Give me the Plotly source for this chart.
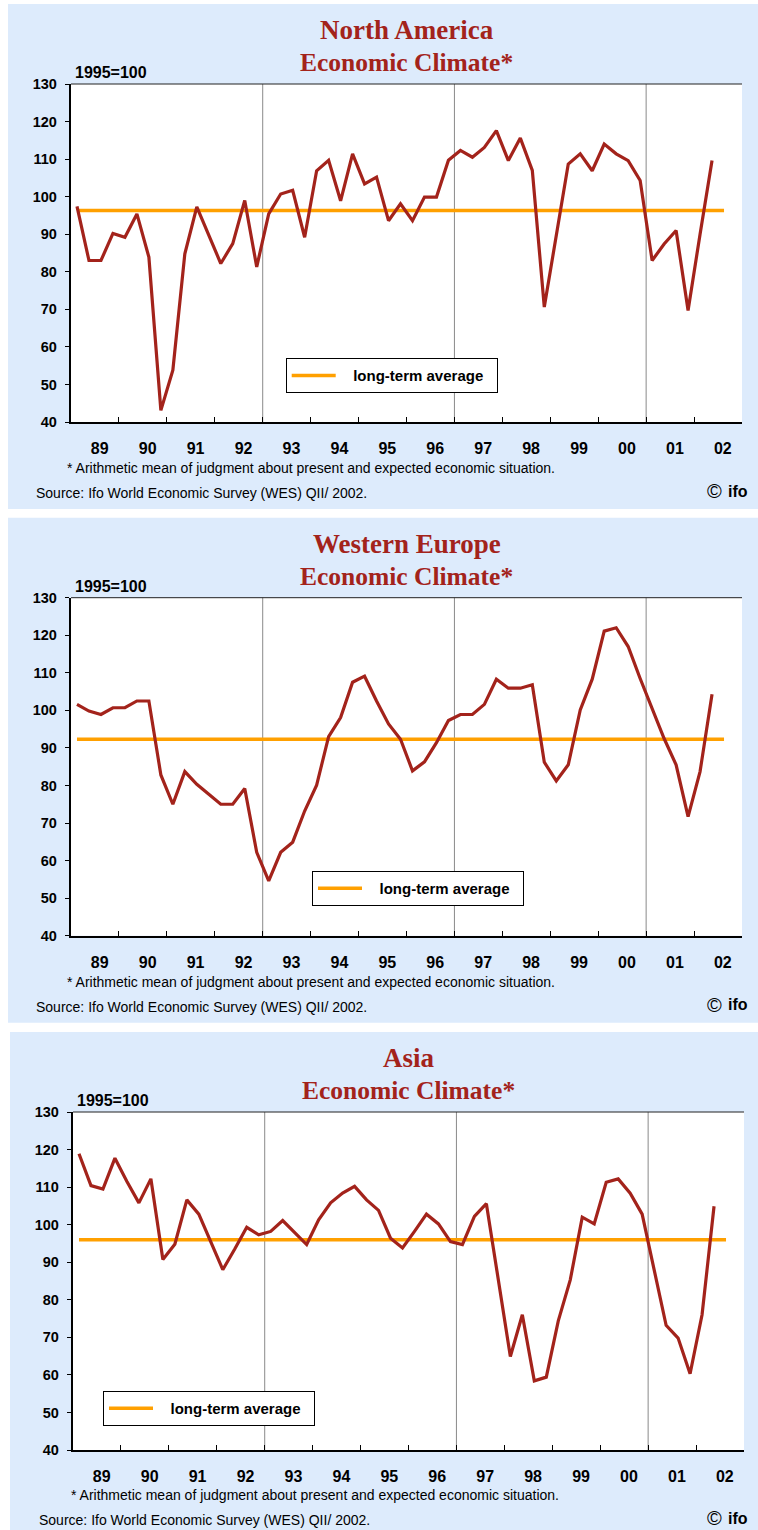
import plotly.graph_objects as go

# ---------------- data ----------------
quarters = [f"{y}Q{q}" for y in range(1989, 2003) for q in range(1, 5)][:54]   # 1989Q1 .. 2002Q2
avg_span = ["1989Q1", "2002Q3"]
year_labels = ["89", "90", "91", "92", "93", "94", "95", "96", "97", "98", "99", "00", "01", "02"]
year_starts = list(range(1989, 2003))
separator_years = [1993, 1997, 2001]

na_values = [97.4, 83.0, 83.0, 90.2, 89.2, 95.4, 83.9, 43.1, 53.8, 84.8,
             97.3, 90.0, 82.2, 87.5, 99.0, 81.3, 95.4, 100.7, 101.7, 89.2,
             106.9, 109.7, 98.9, 111.4, 103.4, 105.2, 93.6, 98.1, 93.6, 99.9,
             99.9, 109.7, 112.3, 110.5, 113.1, 117.6, 109.6, 115.6, 107.0, 70.6,
             89.5, 108.7, 111.4, 106.9, 114.0, 111.4, 109.6, 104.3, 83.0, 87.4,
             91.0, 69.7, 90.0, 109.6]
we_values = [101.6, 99.8, 98.9, 100.7, 100.7, 102.5, 102.5, 82.8, 75.0, 83.7,
             80.3, 77.6, 75.0, 75.0, 79.2, 62.2, 54.6, 62.2, 64.9, 73.2,
             80.1, 93.0, 98.1, 107.5, 109.1, 102.5, 96.4, 92.3, 83.9, 86.3,
             91.4, 97.3, 98.9, 98.9, 101.6, 108.3, 105.9, 105.9, 106.8, 86.2,
             81.2, 85.5, 100.1, 108.3, 121.1, 122.0, 117.0, 108.5, 100.5, 92.5,
             85.5, 71.7, 83.7, 104.3]
asia_values = [118.9, 110.4, 109.5, 117.7, 111.5, 105.8, 112.2, 90.7, 94.8, 106.6,
               102.8, 95.4, 88.0, 93.5, 99.3, 97.3, 98.2, 101.1, 97.8, 94.7,
               101.3, 105.8, 108.4, 110.2, 106.6, 103.8, 96.4, 93.8, 98.2, 102.8,
               100.2, 95.5, 94.7, 102.2, 105.6, 85.3, 64.9, 76.0, 58.4, 59.4,
               74.4, 85.3, 102.0, 100.2, 111.3, 112.2, 108.4, 102.8, 87.5, 73.2,
               69.8, 60.3, 76.0, 104.9]
regions = ["North America", "Western Europe", "Asia"]
series = [na_values, we_values, asia_values]
long_term_avg = [96.3, 92.3, 96.0]

subtitle = "Economic Climate*"
base_label = "1995=100"
legend_label = "long-term average"
footnote = "* Arithmetic mean of judgment about present and expected economic situation."
source = "Source: Ifo World Economic Survey (WES) QII/ 2002."


def qpos(label):
    y, q = label.split("Q")
    return int(y) + (int(q) - 0.5) / 4.0


# ---------------- layout helpers ----------------
W, H = 758, 1530
def px(x): return x / W
def py(y): return 1 - y / H

RED = "#a3231b"
ORANGE = "#ffa000"
BLUE_BG = "#ddebfc"
SANS = "Liberation Sans, Arial, sans-serif"
SERIF = "Liberation Serif, Times New Roman, serif"
NB = "\u00a0"

panel_dy = [0, 513.7, 1028]
footer_dy = [0, 513.7, 1026.8]
panel_dx = [0, 0, 2]
legend_pos = [(285.7, 358.3), (312, 871), (103, 1391)]

fig = go.Figure()
shapes, annotations = [], []
layout = dict(width=W, height=H, margin=dict(l=0, r=0, t=0, b=0, autoexpand=False),
              paper_bgcolor="white", plot_bgcolor="rgba(0,0,0,0)", showlegend=True)

for k in range(3):
    n = k + 1
    sfx = "" if n == 1 else str(n)
    dy, dx, fdy = panel_dy[k], panel_dx[k], footer_dy[k]
    xl, xr = 71 + dx, 742 + dx
    yt, yb = 84 + dy, 422 + dy
    xa, ya = f"x{sfx}", f"y{sfx}"
    leg = "legend" if n == 1 else f"legend{n}"

    # panel background + white plot area
    shapes.append(dict(type="rect", xref="paper", yref="paper", layer="below",
                       x0=px(8 + dx), x1=px(758), y0=py(4 + dy), y1=py(509 + dy),
                       fillcolor=BLUE_BG, line=dict(width=0)))
    shapes.append(dict(type="rect", xref="paper", yref="paper", layer="below",
                       x0=px(xl), x1=px(xr), y0=py(yb), y1=py(yt),
                       fillcolor="white", line=dict(width=0)))
    for sy in separator_years:
        shapes.append(dict(type="line", xref=xa, yref=f"{ya} domain", layer="below",
                           x0=sy, x1=sy, y0=0, y1=1, line=dict(color="#8a8a8a", width=1)))
    shapes.append(dict(type="line", xref=f"{xa} domain", yref=f"{ya} domain",
                       x0=0, x1=1, y0=1, y1=1, line=dict(color="#222", width=1)))

    fig.add_trace(go.Scatter(x=[qpos(q) for q in avg_span], y=[long_term_avg[k]] * 2,
                             mode="lines", line=dict(color=ORANGE, width=3.5),
                             name=NB * 3 + legend_label + NB * 2, legend=leg,
                             xaxis=xa, yaxis=ya, hoverinfo="skip"))
    fig.add_trace(go.Scatter(x=[qpos(q) for q in quarters], y=series[k], mode="lines",
                             line=dict(color=RED, width=3.2), showlegend=False,
                             xaxis=xa, yaxis=ya, name=regions[k]))

    layout[f"xaxis{sfx}"] = dict(
        domain=[px(xl), px(xr)], range=[1989, 2003], anchor=ya, automargin=False,
        tickmode="array", tickvals=[y + 0.6 for y in year_starts], ticktext=year_labels,
        ticks="", showline=True, linecolor="black", linewidth=2,
        showgrid=False, zeroline=False, ticklabelstandoff=11,
        tickfont=dict(family=SANS, size=16, color="black", weight="bold"),
        minor=dict(tickmode="array", tickvals=year_starts[1:], ticks="inside",
                   ticklen=5, tickwidth=1, tickcolor="black", showgrid=False))
    layout[f"yaxis{sfx}"] = dict(
        domain=[py(yb), py(yt)], range=[40, 130], anchor=xa, tick0=40, dtick=10,
        automargin=False,
        ticks="outside", ticklen=4.5, tickwidth=1, tickcolor="black",
        showline=True, linecolor="black", linewidth=1.5, showgrid=False, zeroline=False,
        ticklabelstandoff=5,
        tickfont=dict(family=SANS, size=14.5, color="black", weight="bold"))
    layout[f"yaxis{n + 3}"] = dict(
        overlaying=ya, side="right", anchor=xa, range=[40, 130], tick0=40, dtick=10,
        automargin=False,
        ticks="inside", ticklen=4, tickwidth=1, tickcolor="black", showticklabels=False,
        showline=True, linecolor="black", linewidth=2.5, showgrid=False, zeroline=False)

    lx, ly = legend_pos[k]
    layout[leg] = dict(x=px(lx), y=py(ly), xanchor="left", yanchor="top",
                       bgcolor="white", bordercolor="black", borderwidth=1,
                       itemwidth=44,
                       font=dict(family=SANS, size=15, color="black", weight="bold"))

    cx = (71 + 742) / 2 + dx
    annotations += [
        dict(text=regions[k], x=px(cx), y=py(30 + dy), xref="paper", yref="paper",
             showarrow=False, xanchor="center", yanchor="middle",
             font=dict(family=SERIF, size=27, color=RED, weight="bold")),
        dict(text=subtitle, x=px(cx), y=py(62.5 + dy), xref="paper", yref="paper",
             showarrow=False, xanchor="center", yanchor="middle",
             font=dict(family=SERIF, size=25.5, color=RED, weight="bold")),
        dict(text=base_label, x=px(73 + dx), y=py(72.8 + dy), xref="paper", yref="paper",
             showarrow=False, xanchor="left", yanchor="middle",
             font=dict(family=SANS, size=16, color="black", weight="bold")),
        dict(text=footnote, x=px(65 + dx * 2), y=py(467.8 + fdy), xref="paper", yref="paper",
             showarrow=False, xanchor="left", yanchor="middle",
             font=dict(family=SANS, size=14, color="black")),
        dict(text=source, x=px(34 + dx * 1.5), y=py(492.8 + fdy), xref="paper", yref="paper",
             showarrow=False, xanchor="left", yanchor="middle",
             font=dict(family=SANS, size=14, color="black")),
        dict(text="©", x=px(714.4), y=py(490.8 + fdy), xref="paper", yref="paper",
             showarrow=False, xanchor="center", yanchor="middle", borderpad=0,
             font=dict(family=SANS, size=20, color="black")),
        dict(text="ifo", x=px(749), y=py(491.2 + fdy), xref="paper", yref="paper",
             showarrow=False, xanchor="right", yanchor="middle", borderpad=0,
             font=dict(family=SANS, size=16, color="black", weight="bold")),
    ]

layout["shapes"] = shapes
layout["annotations"] = annotations
fig.update_layout(**layout)

pin_page = (
    "document.documentElement.style.margin='0';"
    "document.documentElement.style.padding='0';"
    "document.documentElement.style.overflow='hidden';"
    "document.body.style.margin='0';"
    "document.body.style.padding='0';"
    "document.body.style.overflow='hidden';"
    "var gd=document.querySelector('.plotly-graph-div');"
    "gd.style.position='fixed';gd.style.left='0px';gd.style.top='0px';"
)
fig.write_html("out.html", config={"displayModeBar": False}, post_script=pin_page)
